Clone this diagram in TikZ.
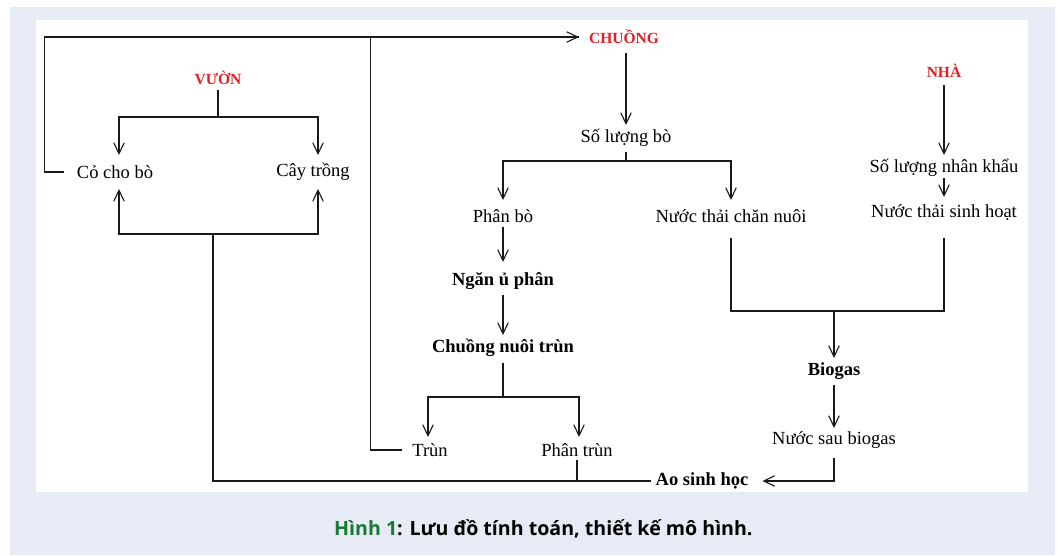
\documentclass[tikz,border=0pt]{standalone}
\usepackage{fontspec}
\setmainfont{Liberation Serif}
\newfontfamily\capfont{Open Sans}
\usetikzlibrary{arrows.meta}

\definecolor{panel}{RGB}{230,235,245}
\definecolor{keyred}{RGB}{226,32,36}
\definecolor{capgreen}{RGB}{24,120,52}
\definecolor{linecol}{RGB}{25,25,25}

\tikzset{
  x=1pt, y=1pt,
  lbl/.style={font=\fontsize{18.5}{20}\selectfont, inner sep=0pt, text=black},
  bld/.style={lbl, font=\fontsize{18.5}{20}\selectfont\bfseries},
  key/.style={inner sep=0pt, text=keyred, font=\fontsize{15.5}{17}\selectfont\bfseries},
  ln/.style={line width=1.1pt, draw=linecol},
  arr/.style={ln, -{Straight Barb[length=11pt,width=10.5pt,line width=1.1pt]}},
}

\begin{document}
\begin{tikzpicture}
% page, panel and drawing area
\useasboundingbox (0,0) rectangle (1058,-555);
\fill[panel] (10,-7) rectangle (1055,-555);
\fill[white] (36,-20) rectangle (1028,-492);

% headings
\node[key] (vuon)   at (218,-78) {VƯỜN};
\node[key] (chuong) at (624,-37) {CHUỒNG};
\node[key] (nha)    at (944,-71) {NHÀ};

% garden
\node[lbl] (co)  at (115,-172) {Cỏ cho bò};
\node[lbl] (cay) at (313,-172) {Cây trồng};

% barn
\node[lbl] (slbo)     at (626,-138) {Số lượng bò};
\node[lbl] (phanbo)   at (503,-216) {Phân bò};
\node[lbl] (ntcn)     at (731,-216) {Nước thải chăn nuôi};
\node[bld] (ngan)     at (503,-281) {Ngăn ủ phân};
\node[bld] (cnt)      at (503,-348) {Chuồng nuôi trùn};
\node[lbl] (trun)     at (430,-450) {Trùn};
\node[lbl] (phantrun) at (577,-450) {Phân trùn};

% house
\node[lbl] (slnk) at (944,-168) {Số lượng nhân khẩu};
\node[lbl] (ntsh) at (944,-213) {Nước thải sinh hoạt};

% treatment
\node[bld] (biogas) at (834,-371) {Biogas};
\node[lbl] (nsb)    at (834,-440) {Nước sau biogas};
\node[bld] (ao)     at (702,-481) {Ao sinh học};

% garden branches
\draw[ln] ([yshift=-12pt]vuon.center) -- ([yshift=-39pt]vuon.center) coordinate (vj);
\draw[arr] (vj) -| ([shift={(4pt,17pt)}]co.center);
\draw[arr] (vj) -| ([shift={(5pt,17pt)}]cay.center);

% pond water back to the garden
\coordinate (gj) at (213,-234);
\draw[ln] ([xshift=-5pt]ao.west) -| (gj);
\draw[arr] (gj) -| ([shift={(4pt,-17pt)}]co.center);
\draw[arr] (gj) -| ([shift={(5pt,-17pt)}]cay.center);

% grass and worms back to the barn
\draw[arr] ([xshift=-13pt]co.west) -- ++(-19,0) |- ([xshift=-10pt]chuong.west);
\draw[ln] ([xshift=-10pt]trun.west) -- ++(-32,0) |- ([xshift=-10pt]chuong.west);

% barn flow
\draw[arr] ([shift={(2pt,-16pt)}]chuong.center) -- ([yshift=13pt]slbo.center);
\draw[ln] ([yshift=-14pt]slbo.center) -- ([yshift=-23pt]slbo.center) coordinate (bj);
\draw[arr] (bj) -| ([yshift=16pt]phanbo.center);
\draw[arr] (bj) -| ([yshift=16pt]ntcn.center);
\draw[arr] ([yshift=-11pt]phanbo.center) -- ([yshift=19pt]ngan.center);
\draw[arr] ([yshift=-14pt]ngan.center) -- ([yshift=13pt]cnt.center);
\draw[ln] ([yshift=-15pt]cnt.center) -- ([yshift=-49pt]cnt.center) coordinate (tj);
\draw[arr] (tj) -| ([shift={(-2pt,13pt)}]trun.center);
\draw[arr] (tj) -| ([shift={(2pt,13pt)}]phantrun.center);
\draw[ln] ([yshift=-10pt]phantrun.center) |- ([xshift=-5pt]ao.west);

% house flow
\draw[arr] ([yshift=-14pt]nha.center) -- ([yshift=13pt]slnk.center);
\draw[arr] ([yshift=-10pt]slnk.center) -- ([yshift=16pt]ntsh.center);

% waste water to biogas and the pond
\draw[ln] ([yshift=-22pt]ntcn.center) -- ++(0,-73) -| ([yshift=-25pt]ntsh.center);
\draw[arr] ([yshift=60pt]biogas.center) -- ([yshift=13pt]biogas.center);
\draw[arr] ([yshift=-14pt]biogas.center) -- ([yshift=12pt]nsb.center);
\draw[arr] ([yshift=-18pt]nsb.center) |- ([xshift=14pt]ao.east);

% caption
\node[anchor=west, inner sep=0pt, font=\capfont\bfseries\fontsize{19.6}{22}\selectfont] (cap) at (334,-529)
  {\textcolor{capgreen}{Hình 1}: Lưu đồ tính toán, thiết kế mô hình.};
\end{tikzpicture}
\end{document}
